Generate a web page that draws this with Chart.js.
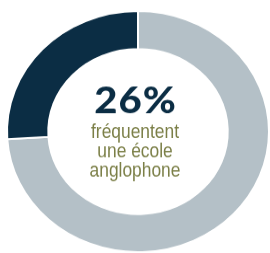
<!DOCTYPE html>
<html>
<head>
<meta charset="utf-8">
<script src="https://cdn.jsdelivr.net/npm/chart.js@4/dist/chart.umd.min.js"></script>
<style>
html,body{margin:0;padding:0;background:#fff;overflow:hidden;}
body{width:270px;height:253px;}
#wrap{width:270px;height:290px;transform:scaleY(0.92);transform-origin:0 0;}
</style>
</head>
<body>
<div id="wrap"><canvas id="c" width="270" height="290"></canvas></div>
<script>
const categories = ["Autre école", "Fréquentent une école anglophone"];
const values = [74, 26];
const colors = ["#b4c0c7", "#0b2d44"];
const bigLabel = "26%";
const subLines = ["fréquentent", "une école", "anglophone"];

const centerText = {
  id: 'centerText',
  afterDraw(chart) {
    const ctx = chart.ctx;
    const cx = 135;
    ctx.save();
    ctx.textAlign = 'center';
    ctx.textBaseline = 'alphabetic';
    ctx.fillStyle = '#0b2d44';
    ctx.font = '900 40px Lato';
    ctx.letterSpacing = '1px';
    ctx.fillText(bigLabel, cx + 0.5, 122.5);
    ctx.letterSpacing = '0px';
    ctx.fillStyle = '#7b7f47';
    ctx.font = '22px "Liberation Sans", Arial';
    subLines.forEach((t, i) => {
      ctx.save();
      ctx.translate(cx, 150 + i * 21.2);
      ctx.scale(0.79, 1);
      ctx.fillText(t, 0, 0);
      ctx.restore();
    });
    ctx.restore();
  }
};

new Chart(document.getElementById('c'), {
  type: 'doughnut',
  data: {
    labels: categories,
    datasets: [{
      data: values,
      backgroundColor: colors,
      borderColor: '#ffffff',
      borderWidth: 2,
      hoverOffset: 0
    }]
  },
  options: {
    responsive: false,
    animation: false,
    cutout: '68.5%',
    layout: { padding: { left: 6, right: 0, top: 11, bottom: 15 } },
    plugins: { legend: { display: false }, tooltip: { enabled: false } }
  },
  plugins: [centerText]
});
</script>
</body>
</html>
